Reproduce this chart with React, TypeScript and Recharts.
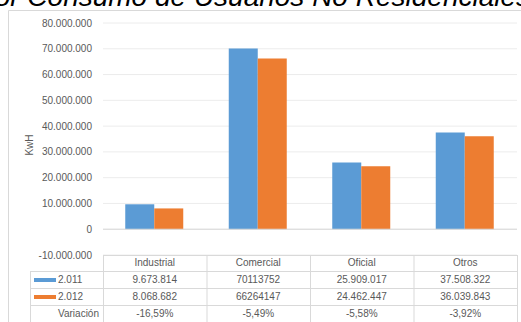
import { Bar, BarChart, CartesianGrid, ReferenceLine, XAxis, YAxis } from "recharts";

const categories = ["Industrial", "Comercial", "Oficial", "Otros"];
const values2011 = [9673814, 70113752, 25909017, 37508322];
const values2012 = [8068682, 66264147, 24462447, 36039843];
const labels2011 = ["9.673.814", "70113752", "25.909.017", "37.508.322"];
const labels2012 = ["8.068.682", "66264147", "24.462.447", "36.039.843"];
const variation = ["-16,59%", "-5,49%", "-5,58%", "-3,92%"];
const yTicks = [-10000000, 0, 10000000, 20000000, 30000000, 40000000, 50000000, 60000000, 70000000, 80000000];

const data = categories.map((name, i) => ({ name, y2011: values2011[i], y2012: values2012[i] }));

const W = 521;
const H = 322;
const PLOT_LEFT = 103;
const PLOT_RIGHT = 517;
const PLOT_TOP = 23;
const PLOT_BOTTOM = 255;
const COL_W = (PLOT_RIGHT - PLOT_LEFT) / categories.length;
const ROWS = [271, 288, 305, 322];

const BLUE = "#5b9bd5";
const ORANGE = "#ed7d31";
const TEXT = "#595959";
const LINE = "#d9d9d9";
const FONT = "'Liberation Sans', Arial, sans-serif";

const fmt = (n: number) => {
  const s = Math.abs(n).toString().replace(/\B(?=(\d{3})+(?!\d))/g, ".");
  return n < 0 ? "-" + s : s;
};

function TableOverlay() {
  const rows = [
    { label: "2.011", color: BLUE, cells: labels2011 },
    { label: "2.012", color: ORANGE, cells: labels2012 },
    { label: "Variación", color: null, cells: variation },
  ];
  return (
    <svg width={W} height={H} style={{ position: "absolute", left: 0, top: 0, pointerEvents: "none" }}>
      <text x={-24} y={6} fontFamily={FONT} fontSize={28} fontStyle="italic" fill="#000">
        Por Consumo de Usuarios No Residenciales
      </text>
      <line x1={8.5} y1={10.5} x2={W} y2={10.5} stroke={LINE} />
      <line x1={8.5} y1={10.5} x2={8.5} y2={H} stroke={LINE} />
      <text
        x={33}
        y={145}
        transform="rotate(-90 33 145)"
        textAnchor="middle"
        fontFamily={FONT}
        fontSize={10}
        fill={TEXT}
      >
        KwH
      </text>
      <line x1={PLOT_LEFT} y1={PLOT_BOTTOM + 0.5} x2={PLOT_RIGHT} y2={PLOT_BOTTOM + 0.5} stroke={LINE} />
      {ROWS.map((y) => (
        <line key={y} x1={30} y1={y + 0.5} x2={PLOT_RIGHT} y2={y + 0.5} stroke={LINE} />
      ))}
      <line x1={30.5} y1={ROWS[0]} x2={30.5} y2={H} stroke={LINE} />
      {categories.map((_, i) => (
        <line
          key={i}
          x1={PLOT_LEFT + i * COL_W + 0.5}
          y1={PLOT_BOTTOM}
          x2={PLOT_LEFT + i * COL_W + 0.5}
          y2={H}
          stroke={LINE}
        />
      ))}
      <line x1={PLOT_RIGHT + 0.5} y1={PLOT_BOTTOM} x2={PLOT_RIGHT + 0.5} y2={H} stroke={LINE} />
      {rows.map((r, ri) => {
        const cy = (ROWS[ri] + ROWS[ri + 1]) / 2 + 3.5;
        return (
          <g key={r.label}>
            {r.color ? (
              <>
                <rect x={34} y={cy - 5} width={22} height={4} fill={r.color} />
                <text x={58} y={cy} fontFamily={FONT} fontSize={10} fill={TEXT}>
                  {r.label}
                </text>
              </>
            ) : (
              <text x={99} y={cy} textAnchor="end" fontFamily={FONT} fontSize={10} fill={TEXT}>
                {r.label}
              </text>
            )}
            {r.cells.map((c, ci) => (
              <text
                key={ci}
                x={PLOT_LEFT + (ci + 0.5) * COL_W}
                y={cy}
                textAnchor="middle"
                fontFamily={FONT}
                fontSize={10}
                fill={TEXT}
              >
                {c}
              </text>
            ))}
          </g>
        );
      })}
    </svg>
  );
}

export default function App() {
  return (
    <div style={{ position: "absolute", left: 0, top: 0, width: W, height: H, background: "#fff", overflow: "hidden" }}>
      <BarChart
        width={W}
        height={H}
        data={data}
        margin={{ top: PLOT_TOP, right: W - PLOT_RIGHT, bottom: 37, left: 0 }}
        barGap={0}
        barCategoryGap="21.5%"
      >
        <CartesianGrid vertical={false} stroke="#ececec" />
        <XAxis
          dataKey="name"
          height={30}
          axisLine={false}
          tickLine={false}
          tickSize={0}
          tickMargin={4}
          tick={{ fill: TEXT, fontSize: 10, fontFamily: FONT }}
        />
        <YAxis
          width={PLOT_LEFT}
          domain={[-10000000, 80000000]}
          ticks={yTicks}
          interval={0}
          axisLine={false}
          tickLine={false}
          tickSize={6}
          tickMargin={5}
          tickFormatter={fmt}
          tick={{ fill: TEXT, fontSize: 10, fontFamily: FONT }}
        />
        <ReferenceLine y={0} stroke={LINE} />
        <Bar dataKey="y2011" fill={BLUE} isAnimationActive={false} />
        <Bar dataKey="y2012" fill={ORANGE} isAnimationActive={false} />
      </BarChart>
      <TableOverlay />
    </div>
  );
}
